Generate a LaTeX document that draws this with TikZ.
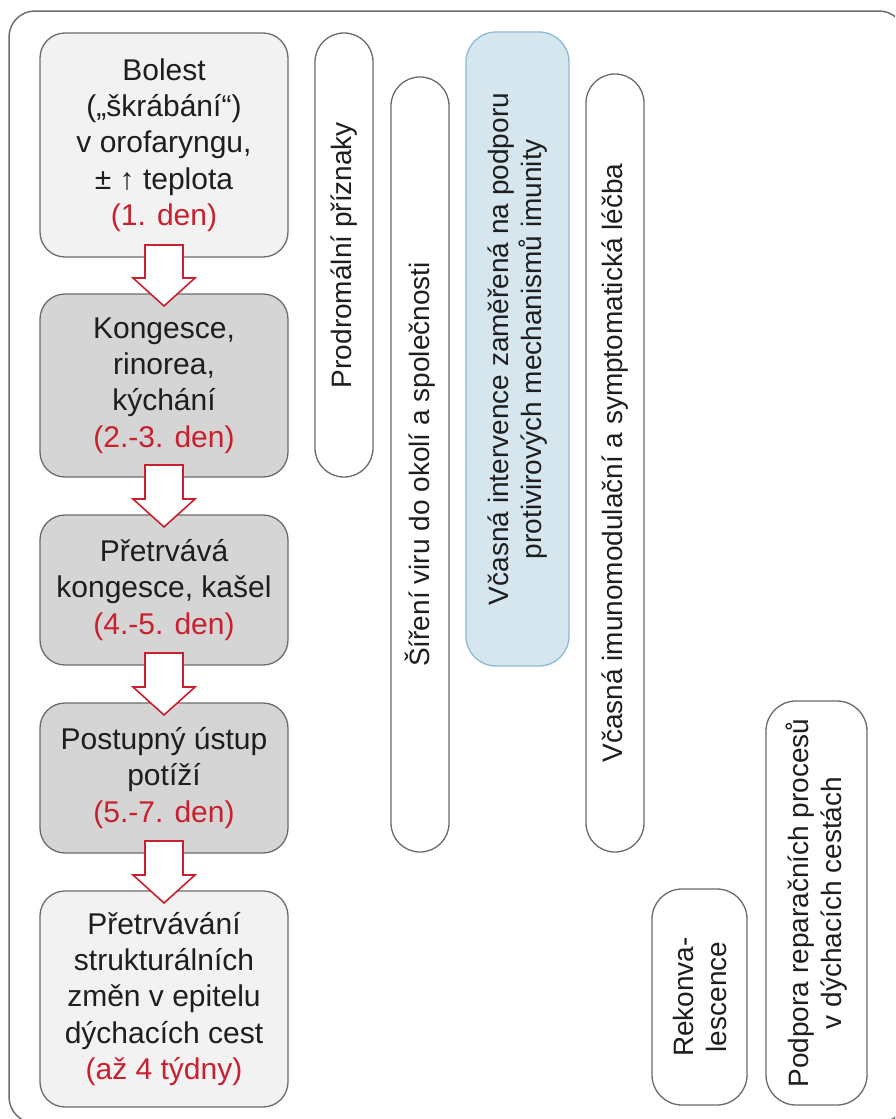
\documentclass[tikz,border=0pt]{standalone}
\usepackage{fontspec}
\setmainfont{Liberation Sans}
\usetikzlibrary{calc}
\definecolor{bord}{HTML}{6B6B6B}
\definecolor{frameg}{HTML}{6E6E6E}
\definecolor{lightg}{HTML}{F2F2F2}
\definecolor{darkg}{HTML}{D6D5D5}
\definecolor{ink}{HTML}{1E1E1E}
\definecolor{myred}{HTML}{C8202E}
\definecolor{bluefill}{HTML}{D6E6EF}
\definecolor{blueline}{HTML}{8DBBD3}
\newcommand\flowarrow[2]{%
  \draw[arr] ($(#1.south)+(-19,-12)$) -- ($(#1.south)+(19,-12)$)
    -- ($(#2.north)+(19,-16)$) -- ($(#2.north)+(31,-16)$)
    -- ($(#2.north)+(0,12)$)
    -- ($(#2.north)+(-31,-16)$) -- ($(#2.north)+(-19,-16)$) -- cycle;}
\begin{document}
\begin{tikzpicture}[x=1pt,y=-1pt,
  lbox/.style={draw=bord, line width=1.3pt, rounded corners=25pt, minimum width=248pt,
    align=center, text=ink, font=\fontsize{30}{36.3}\selectfont, inner sep=0pt, outer sep=0pt},
  light/.style={fill=lightg},
  dark/.style={fill=darkg},
  vbox/.style={draw=bord, line width=1.3pt, rotate=90, align=center, text=ink, fill=white,
    font=\fontsize{28}{33}\selectfont, inner sep=0pt, outer sep=0pt},
  pill/.style={vbox, minimum height=58pt, rounded corners=28.9pt},
  arr/.style={draw=myred, line width=1.6pt, fill=white, line join=miter},
  frame/.style={draw=frameg, line width=1.5pt, rounded corners=26pt},
  days/.style={text=myred}
]
\useasboundingbox (0,0) rectangle (895,1119);
\clip (0,0) rectangle (895,1119);
\fill[white] (0,0) rectangle (895,1119);
\draw[frame] (9,11) rectangle (905,1123);

% left column
\node[lbox, light, minimum height=224pt] (b1) at (164,145)
  {Bolest\\(„škrábání“)\\v orofaryngu,\\± ↑ teplota\\{\color{myred}(1. den)}};
\node[lbox, dark, minimum height=183pt] (b2) at (164,385.5)
  {Kongesce,\\rinorea,\\kýchání\\{\color{myred}(2.-3. den)}};
\node[lbox, dark, minimum height=150pt] (b3) at (164,590)
  {Přetrvává\\kongesce, kašel\\{\color{myred}(4.-5. den)}};
\node[lbox, dark, minimum height=150pt] (b4) at (164,778)
  {Postupný ústup\\potíží\\{\color{myred}(5.-7. den)}};
\node[lbox, light, minimum height=216pt] (b5) at (164,999)
  {Přetrvávání\\strukturálních\\změn v epitelu\\dýchacích cest\\{\color{myred}(až 4 týdny)}};

% vertical bars
\node[pill, minimum width=444pt] (p1) at (344,255) {Prodromální příznaky};
\node[pill, minimum width=775pt] (p2) at (420,464.5) {Šíření viru do okolí a společnosti};
\node[vbox, fill=bluefill, draw=blueline, minimum width=634pt, minimum height=103pt,
  rounded corners=30pt] (p3) at (517.5,349)
  {Včasná intervence zaměřená na podporu\\protivirových mechanismů imunity};
\node[pill, minimum width=778pt] (p4) at (615,463) {Včasná imunomodulační a symptomatická léčba};
\node[vbox, minimum width=216pt, minimum height=95pt, rounded corners=30pt] (p5) at (699.5,997)
  {Rekonva-\\lescence};
\node[vbox, minimum width=404pt, minimum height=101pt, rounded corners=30pt] (p6) at (816.5,903)
  {Podpora reparačních procesů\\v dýchacích cestách};

% arrows
\flowarrow{b1}{b2}
\flowarrow{b2}{b3}
\flowarrow{b3}{b4}
\flowarrow{b4}{b5}
\end{tikzpicture}
\end{document}
